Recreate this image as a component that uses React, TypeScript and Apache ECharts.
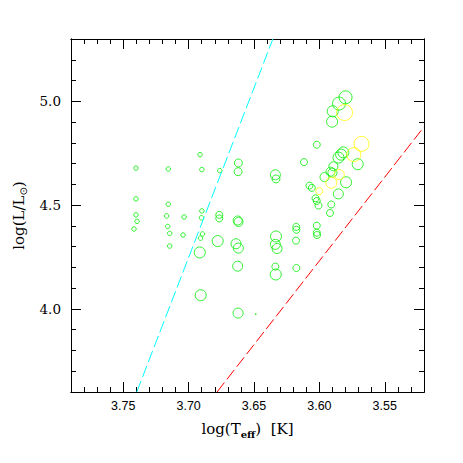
import React, { useEffect, useRef } from 'react';
import * as echarts from 'echarts';

// ---- axis ticks / labels ----
const xTickValues = [3.75, 3.7, 3.65, 3.6, 3.55];
const xTickLabels = ['3.75', '3.70', '3.65', '3.60', '3.55'];
const yTickValues = [4.0, 4.5, 5.0];
const yTickLabels = ['4.0', '4.5', '5.0'];

// ---- green stars: log Teff, log L, symbol size ----
const greenTeff = [
  3.7403, 3.7403, 3.7403, 3.7395, 3.7418,
  3.7156, 3.7156, 3.7169, 3.716, 3.7145, 3.7145,
  3.7035, 3.7043,
  3.6913, 3.6899, 3.6899, 3.6902, 3.6894, 3.6909,
  3.6762,
  3.6915, 3.6908, 3.6778, 3.6766, 3.6766,
  3.662, 3.6622, 3.6625, 3.6619, 3.6638, 3.662, 3.6625, 3.6622,
  3.6337, 3.6332, 3.6332, 3.6337, 3.6324, 3.6337, 3.6334,
  3.6177, 3.6176, 3.6179, 3.6176,
  3.602, 3.602, 3.6018, 3.5919, 3.5909,
  3.603, 3.602, 3.6007, 3.6118, 3.602, 3.6076, 3.6058,
  3.58, 3.585, 3.5898, 3.5903,
  3.5817, 3.5834, 3.5854, 3.5707,
  3.5893, 3.5915, 3.59, 3.5961, 3.5796, 3.5855,
  3.6487,
];
const greenLogL = [
  4.678, 4.53, 4.453, 4.422, 4.385,
  4.674, 4.504, 4.448, 4.397, 4.364, 4.303,
  4.443, 4.356,
  4.743, 4.671, 4.472, 4.439, 4.361, 4.341,
  4.666,
  4.272, 4.066, 4.327, 4.453, 4.436,
  4.703, 4.661, 4.426, 4.419, 4.314, 4.293, 4.206, 3.98,
  4.646, 4.626, 4.349, 4.311, 4.291, 4.204, 4.166,
  4.395, 4.381, 4.329, 4.197,
  4.401, 4.367, 4.356, 4.462, 4.503,
  4.533, 4.52, 4.498, 4.707, 4.791, 4.594, 4.583,
  5.019, 4.989, 4.952, 4.902,
  4.754, 4.743, 4.729, 4.697,
  4.687, 4.661, 4.656, 4.635, 4.61, 4.554,
  3.975,
];
const greenSize = [
  4.5, 4.5, 4.5, 4.5, 4.5,
  4.5, 4.5, 4.5, 4.5, 4.5, 4.5,
  4.5, 4.5,
  4.5, 4.5, 4.5, 4.5, 4.5, 4.5,
  4.5,
  11, 11, 11, 7, 7,
  8, 8, 9, 9, 10, 10, 10, 10,
  10, 8, 11, 10, 10, 7, 11,
  7, 7, 7, 7,
  7, 7, 7, 7, 7,
  7, 7, 7, 7, 7, 7, 7,
  13, 13, 11, 11,
  11, 11, 11, 11,
  9, 9, 9, 9, 11, 10,
  1,
];

// ---- yellow stars ----
const yellowTeff = [3.5808, 3.5678, 3.5737, 3.5848, 3.5909, 3.6001];
const yellowLogL = [4.946, 4.795, 4.743, 4.647, 4.608, 4.567];
const yellowSize = [16, 15, 14, 10, 11, 7];

// ---- dashed limit lines ----
const cyanLineTeff = [3.7397, 3.6356];
const cyanLineLogL = [3.6, 5.3];
const redLineTeff = [3.6783, 3.52];
const redLineLogL = [3.6, 4.877];

const X_MIN = 3.52;
const X_MAX = 3.79;
const Y_MIN = 3.6;
const Y_MAX = 5.3;

const xMinorTicks: number[] = [];
for (let k = 353; k <= 378; k++) xMinorTicks.push(k / 100);
const yMinorTicks: number[] = [];
for (let k = 37; k <= 52; k++) yMinorTicks.push(k / 10);

const SERIF = "'DejaVu Serif', 'Liberation Serif', serif";
const SANS = "'Liberation Sans', Arial, sans-serif";

function xAxisDef(position: string, ticks: number[], len: number, labels: boolean) {
  return {
    type: 'value',
    position,
    min: X_MIN,
    max: X_MAX,
    inverse: true,
    axisLine: { show: true, onZero: false, lineStyle: { color: '#000', width: 1 } },
    axisTick: { show: true, inside: true, length: len, customValues: ticks, lineStyle: { color: '#000', width: 1 } },
    axisLabel: labels
      ? {
          show: true,
          customValues: xTickValues,
          margin: 7,
          color: '#000',
          fontFamily: SANS,
          fontSize: 12.5,
          formatter: (v: number) => {
            const i = xTickValues.findIndex((t) => Math.abs(t - v) < 1e-6);
            return i >= 0 ? xTickLabels[i] : '';
          },
        }
      : { show: false },
    splitLine: { show: false },
    ...(labels
      ? {
          name: '{a|log(T}{s|eff}{a|)  [K]}',
          nameLocation: 'middle',
          nameGap: 27,
          nameTextStyle: {
            color: '#000',
            rich: {
              a: { fontFamily: SERIF, fontSize: 15, lineHeight: 20, color: '#000', verticalAlign: 'middle' },
              s: { fontFamily: SERIF, fontSize: 10, lineHeight: 10, color: '#000', verticalAlign: 'bottom', fontWeight: 'bold' },
            },
          },
        }
      : {}),
  };
}

function yAxisDef(position: string, ticks: number[], len: number, labels: boolean) {
  return {
    type: 'value',
    position,
    min: Y_MIN,
    max: Y_MAX,
    axisLine: { show: true, onZero: false, lineStyle: { color: '#000', width: 1 } },
    axisTick: { show: true, inside: true, length: len, customValues: ticks, lineStyle: { color: '#000', width: 1 } },
    axisLabel: labels
      ? {
          show: true,
          customValues: yTickValues,
          margin: 10,
          color: '#000',
          fontFamily: SERIF,
          fontSize: 13.5,
          formatter: (v: number) => {
            const i = yTickValues.findIndex((t) => Math.abs(t - v) < 1e-6);
            return i >= 0 ? yTickLabels[i] : '';
          },
        }
      : { show: false },
    splitLine: { show: false },
    ...(labels
      ? {
          name: '{a|log(L/L}{s|\u2299}{a|)}',
          nameLocation: 'middle',
          nameRotate: 90,
          nameGap: 40,
          nameTextStyle: {
            color: '#000',
            rich: {
              a: { fontFamily: SERIF, fontSize: 15, lineHeight: 20, color: '#000', verticalAlign: 'middle' },
              s: { fontFamily: "'DejaVu Sans', sans-serif", fontSize: 10, lineHeight: 10, color: '#000', verticalAlign: 'bottom' },
            },
          },
        }
      : {}),
  };
}

export default function App() {
  const ref = useRef<HTMLDivElement>(null);

  useEffect(() => {
    if (!ref.current) return;
    const chart = echarts.init(ref.current, undefined, { renderer: 'svg' });

    const greenData = greenTeff.map((x, i) => [x, greenLogL[i], greenSize[i]]);
    const yellowData = yellowTeff.map((x, i) => [x, yellowLogL[i], yellowSize[i]]);

    chart.setOption({
      animation: false,
      backgroundColor: '#fff',
      grid: { left: 71, top: 39, width: 353, height: 353, containLabel: false },
      xAxis: [
        xAxisDef('bottom', xTickValues, 10, true),
        xAxisDef('bottom', xMinorTicks, 5, false),
        xAxisDef('top', xTickValues, 10, false),
        xAxisDef('top', xMinorTicks, 5, false),
      ],
      yAxis: [
        yAxisDef('left', yTickValues, 10, true),
        yAxisDef('left', yMinorTicks, 5, false),
        yAxisDef('right', yTickValues, 10, false),
        yAxisDef('right', yMinorTicks, 5, false),
      ],
      series: [
        {
          type: 'line',
          xAxisIndex: 0,
          yAxisIndex: 0,
          data: cyanLineTeff.map((x, i) => [x, cyanLineLogL[i]]),
          showSymbol: false,
          symbol: 'none',
          lineStyle: { color: '#00ffff', width: 1, type: [12, 4] },
          silent: true,
        },
        {
          type: 'line',
          xAxisIndex: 0,
          yAxisIndex: 0,
          data: redLineTeff.map((x, i) => [x, redLineLogL[i]]),
          showSymbol: false,
          symbol: 'none',
          lineStyle: { color: '#ff0000', width: 1, type: [12, 4] },
          silent: true,
        },
        {
          type: 'scatter',
          xAxisIndex: 0,
          yAxisIndex: 0,
          data: greenData,
          symbol: 'circle',
          symbolSize: (v: number[]) => v[2],
          itemStyle: { color: 'rgba(0,0,0,0)', borderColor: '#00ee00', borderWidth: 1 },
          silent: true,
        },
        {
          type: 'scatter',
          xAxisIndex: 0,
          yAxisIndex: 0,
          data: yellowData,
          symbol: 'circle',
          symbolSize: (v: number[]) => v[2],
          itemStyle: { color: 'rgba(0,0,0,0)', borderColor: '#ffff00', borderWidth: 1 },
          silent: true,
        },
      ],
    });

    return () => chart.dispose();
  }, []);

  return (
    <div
      ref={ref}
      style={{ position: 'absolute', left: 0, top: 0, width: 463, height: 463, background: '#fff' }}
    />
  );
}
